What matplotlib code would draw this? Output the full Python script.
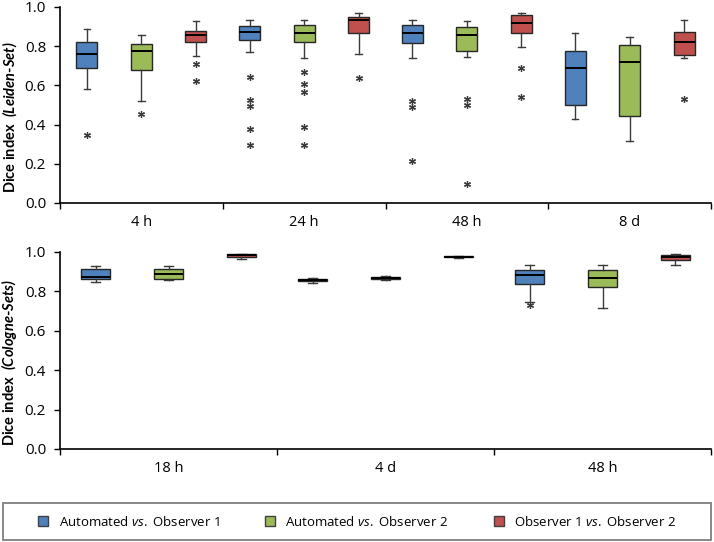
import matplotlib
matplotlib.use("Agg")
import matplotlib.pyplot as plt
from matplotlib.lines import Line2D
from matplotlib.patches import Rectangle

plt.rcParams['font.family'] = ['Open Sans', 'DejaVu Sans']
plt.rcParams['mathtext.fontset'] = 'custom'
plt.rcParams['mathtext.rm'] = 'Open Sans'
plt.rcParams['mathtext.it'] = 'Open Sans:italic'
plt.rcParams['mathtext.bf'] = 'Lato:italic:bold'

series_labels = ["Automated $\\it{vs.}$ Observer 1",
                 "Automated $\\it{vs.}$ Observer 2",
                 "Observer 1 $\\it{vs.}$ Observer 2"]
colors = ["#4F81BD", "#9BBB59", "#C0504D"]

# ---------- Leiden-Set ----------
leiden_cats = ["4 h", "24 h", "48 h", "8 d"]
# [whislo, q1, median, q3, whishi] per category, for each series
leiden_a1 = [[0.582, 0.687, 0.762, 0.821, 0.886],
             [0.772, 0.830, 0.874, 0.905, 0.935],
             [0.741, 0.815, 0.867, 0.910, 0.935],
             [0.430, 0.498, 0.689, 0.776, 0.867]]
leiden_a2 = [[0.520, 0.680, 0.776, 0.809, 0.855],
             [0.738, 0.820, 0.869, 0.908, 0.935],
             [0.745, 0.776, 0.859, 0.900, 0.929],
             [0.316, 0.442, 0.718, 0.808, 0.849]]
leiden_o12 = [[0.752, 0.821, 0.857, 0.879, 0.929],
              [0.759, 0.867, 0.934, 0.951, 0.971],
              [0.798, 0.867, 0.920, 0.958, 0.968],
              [0.738, 0.753, 0.823, 0.871, 0.934]]
leiden_a1_out = [[0.345], [0.641, 0.526, 0.497, 0.378, 0.294], [0.520, 0.490, 0.213], []]
leiden_a2_out = [[0.452], [0.670, 0.605, 0.566, 0.389, 0.294], [0.532, 0.500, 0.099], []]
leiden_o12_out = [[0.707, 0.622], [0.636], [0.690, 0.539], [0.531]]

# ---------- Cologne-Sets ----------
cologne_cats = ["18 h", "4 d", "48 h"]
cologne_a1 = [[0.849, 0.865, 0.875, 0.912, 0.929],
              [0.843, 0.853, 0.859, 0.862, 0.866],
              [0.745, 0.839, 0.882, 0.907, 0.932]]
cologne_a2 = [[0.856, 0.863, 0.887, 0.915, 0.929],
              [0.858, 0.861, 0.868, 0.873, 0.880],
              [0.717, 0.824, 0.868, 0.907, 0.932]]
cologne_o12 = [[0.966, 0.976, 0.983, 0.988, 0.991],
               [0.970, 0.974, 0.976, 0.979, 0.981],
               [0.932, 0.958, 0.973, 0.987, 0.990]]
cologne_a1_out = [[], [], [0.733]]
cologne_a2_out = [[], [], []]
cologne_o12_out = [[], [], []]

W, H = 714, 542
fig = plt.figure(figsize=(W / 100, H / 100), dpi=100)


def fx(px):
    return px / W


def fy(py):
    return 1 - py / H


ax1 = fig.add_axes([fx(60), fy(203), fx(711 - 60), (203 - 7) / H])
ax2 = fig.add_axes([fx(60), fy(449), fx(711 - 60), (449 - 252) / H])

offsets = [-0.335, 0.0, 0.335]
FS = 10


def draw(ax, cats, groups, outs, width, ylabel):
    n = len(cats)
    for s, (grp, out) in enumerate(zip(groups, outs)):
        stats = []
        pos = []
        for i in range(n):
            lo, q1, med, q3, hi = grp[i]
            stats.append(dict(whislo=lo, q1=q1, med=med, q3=q3, whishi=hi,
                              fliers=out[i]))
            pos.append(i + 0.5 + offsets[s])
        ax.bxp(stats, positions=pos, widths=width, patch_artist=True,
               showfliers=True, capwidths=width * 0.3,
               boxprops=dict(facecolor=colors[s], edgecolor="#262626", linewidth=1.0),
               medianprops=dict(color="black", linewidth=1.4),
               whiskerprops=dict(color="#3a3a3a", linewidth=1.0),
               capprops=dict(color="#3a3a3a", linewidth=1.0),
               flierprops=dict(marker=(6, 2, 0), markersize=5,
                               markeredgecolor="#3a3a3a", markerfacecolor="#3a3a3a",
                               markeredgewidth=0.9, linestyle="none"),
               manage_ticks=False, zorder=3)
    ax.set_xlim(0, n)
    ax.set_ylim(0, 1.0)
    ax.set_yticks([0, 0.2, 0.4, 0.6, 0.8, 1.0])
    ax.set_yticklabels(["0.0", "0.2", "0.4", "0.6", "0.8", "1.0"])
    ax.set_xticks(range(n + 1))
    ax.set_xticklabels([])
    ax.set_xticks([i + 0.5 for i in range(n)], minor=True)
    ax.set_xticklabels(cats, minor=True)
    ax.tick_params(axis="x", which="minor", length=0, pad=9, labelsize=FS + 0.5)
    ax.tick_params(axis="x", which="major", length=4, width=1.0, direction="out")
    ax.tick_params(axis="y", length=4, width=1.0, pad=6, labelsize=FS + 1)
    for sp in ["top", "right"]:
        ax.spines[sp].set_visible(False)
    for sp in ["left", "bottom"]:
        ax.spines[sp].set_linewidth(1.2)
    ax.set_ylabel(ylabel, fontsize=FS + 0.5, fontweight="bold", family="Lato")
    ax.yaxis.set_label_coords(-0.063, 0.44)


draw(ax1, leiden_cats, [leiden_a1, leiden_a2, leiden_o12],
     [leiden_a1_out, leiden_a2_out, leiden_o12_out], 0.13,
     "Dice index  $\\mathbf{(Leiden}$-$\\mathbf{Set)}$")
draw(ax2, cologne_cats, [cologne_a1, cologne_a2, cologne_o12],
     [cologne_a1_out, cologne_a2_out, cologne_o12_out], 0.135,
     "Dice index  $\\mathbf{(Cologne}$-$\\mathbf{Sets)}$")

# legend frame
fig.patches.append(Rectangle((fx(3), fy(540)), fx(711 - 3), (540 - 503) / H,
                             transform=fig.transFigure, fill=False,
                             edgecolor="#7f7f7f", linewidth=1.3))
handles = [Line2D([], [], linestyle="none", marker="s", markersize=7,
                  markerfacecolor=c, markeredgecolor="#404040", markeredgewidth=1.0)
           for c in colors]
fig.legend(handles, series_labels, loc="center", ncol=3,
           bbox_to_anchor=(fx(357), fy(521.5)), frameon=False, fontsize=FS - 0.5,
           handlelength=0.8, handletextpad=0.8, columnspacing=3.4)

fig.savefig("out.png", dpi=100)
